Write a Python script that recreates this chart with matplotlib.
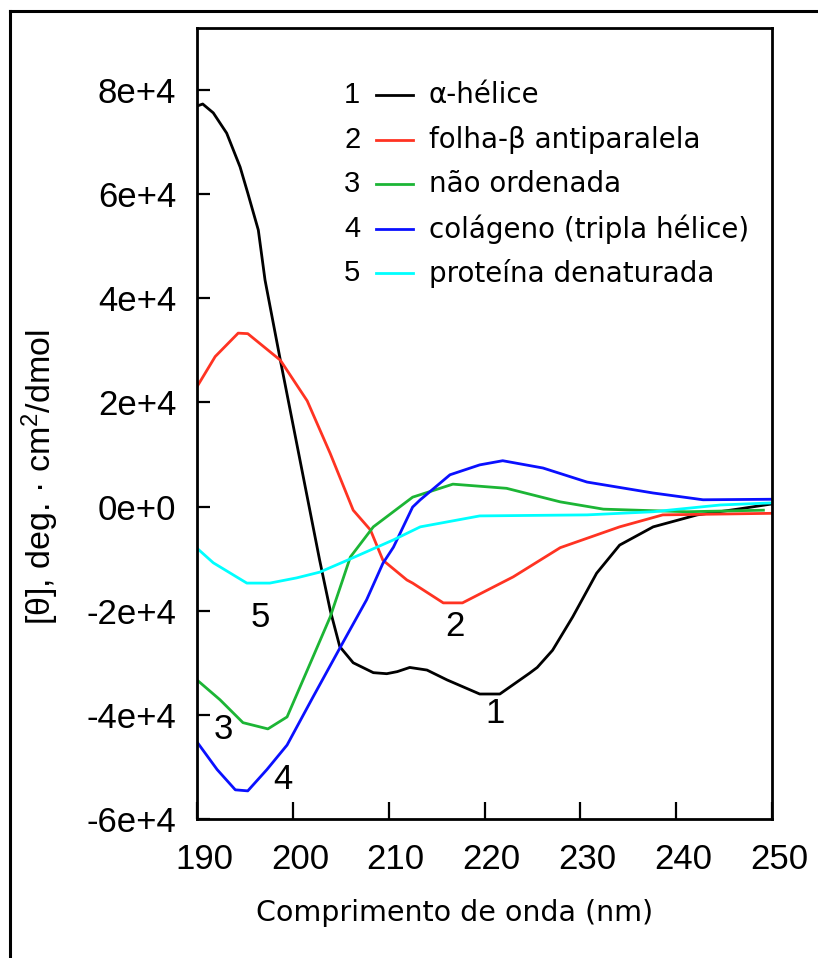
import numpy as np
import matplotlib.pyplot as plt
import matplotlib.transforms as mtransforms
from matplotlib.lines import Line2D

plt.rcParams['mathtext.fontset'] = 'custom'
plt.rcParams['mathtext.rm'] = 'Liberation Sans'
plt.rcParams['mathtext.default'] = 'regular'

# CD spectra, wavelength (nm) vs mean residue ellipticity
wl_helix = [190, 190.6, 191.7, 193.1, 194.5, 195.3, 196.4, 197.1, 198.7, 202.8, 203.9, 204.9,
            206.3, 208.4, 209.8, 210.9, 212.2, 214.0, 216.1, 219.5, 221.6, 224.7, 225.5,
            227.1, 229.2, 231.7, 234.1, 237.6, 242.2, 246.4, 250]
th_helix = [76900, 77300, 75600, 71700, 65200, 60200, 53100, 43500, 28100, -10300, -19900, -26900,
            -30000, -31900, -32100, -31700, -30900, -31400, -33300, -36000, -36000, -32000, -30900,
            -27600, -21200, -12800, -7400, -3900, -1600, -500, 500]

wl_sheet = [190, 191.9, 194.3, 195.3, 198.7, 201.5, 203.9, 206.3, 208.1, 209.4, 211.9,
            212.5, 215.7, 217.7, 223.0, 227.9, 234.1, 238.6, 250]
th_sheet = [23000, 28800, 33300, 33200, 28100, 20300, 10200, -700, -4500, -10300, -14100,
            -14700, -18500, -18500, -13500, -7900, -3900, -1600, -1300]

wl_coil = [190, 192.4, 194.8, 197.4, 199.4, 202.1, 203.9, 205.2, 206.0, 208.4, 212.5,
           216.7, 222.3, 227.9, 232.4, 241.1, 249.1]
th_coil = [-33300, -37100, -41500, -42700, -40400, -28900, -21200, -14100, -9700, -3900, 1800,
           4300, 3500, 900, -500, -1000, -700]

wl_coll = [190, 192.1, 194.0, 195.3, 197.3, 199.4, 202.1, 205.2, 207.7, 209.4, 210.5,
           212.5, 213.3, 216.4, 219.5, 221.9, 226.1, 230.7, 237.6, 242.8, 250]
th_coll = [-45200, -50500, -54400, -54600, -50500, -45800, -36600, -26200, -17900, -10900, -7800,
           -100, 1300, 6100, 8000, 8800, 7400, 4700, 2600, 1300, 1400]

wl_den = [190, 191.7, 194.3, 195.2, 197.6, 200.4, 202.8, 205.7, 210.5, 213.3, 219.5,
          230.7, 237.6, 244.6, 250]
th_den = [-8000, -10800, -13700, -14700, -14700, -13700, -12600, -10300, -6400, -3900, -1800,
          -1600, -1000, 300, 700]

labels = ['α-hélice', 'folha-β antiparalela', 'não ordenada',
          'colágeno (tripla hélice)', 'proteína denaturada']
colors = ['#000000', '#ff3322', '#1cb535', '#0a10ff', '#00ffff']
series = [(wl_helix, th_helix), (wl_sheet, th_sheet), (wl_coil, th_coil),
          (wl_coll, th_coll), (wl_den, th_den)]

# number tags placed next to each curve
tag_x = [221.1, 216.9, 192.8, 199.0, 196.6]
tag_y = [-39800, -23100, -42900, -52500, -21400]

yticks = [-60000, -40000, -20000, 0, 20000, 40000, 60000, 80000]
xticks = [190, 200, 210, 220, 230, 240, 250]

tick_font = 'Liberation Sans'


def sci_label(v):
    if v == 0:
        return '0e+0'
    return '%de+4' % (v / 1e4)


fig = plt.figure(figsize=(8.18, 9.58), dpi=100)
ax = fig.add_axes([0.2408, 0.1451, 0.7030, 0.8257])

for (wl, th), c in zip(series, colors):
    ax.plot(wl, th, color=c, lw=2.0, solid_joinstyle='round')

for i, (tx, ty) in enumerate(zip(tag_x, tag_y)):
    ax.text(tx, ty, str(i + 1), fontsize=25, family=tick_font,
            ha='center', va='center')

ax.set_xlim(190, 250)
ax.set_ylim(-60000, 91900)
ax.set_xticks(xticks)
ax.set_yticks(yticks)
ax.set_xticklabels([str(x) for x in xticks], family=tick_font, fontsize=25)
ax.set_yticklabels([sci_label(v) for v in yticks], family=tick_font, fontsize=25)
ax.tick_params(axis='y', direction='in', length=9.5, width=1.6, pad=15)
ax.tick_params(axis='x', direction='in', length=12, width=1.6, pad=17)
for s in ax.spines.values():
    s.set_linewidth(2.0)

# x tick labels sit slightly right of their ticks
shift = mtransforms.ScaledTranslation(7 / 100, 0, fig.dpi_scale_trans)
for lab in ax.get_xticklabels():
    lab.set_transform(lab.get_transform() + shift)

# legend: number, line sample, description
for i, (lab, c) in enumerate(zip(labels, colors)):
    yy = 0.915 - i * 0.0563
    ax.text(0.270, yy, str(i + 1), transform=ax.transAxes, fontsize=21,
            family='Liberation Sans', ha='center', va='center')
    ax.plot([0.311, 0.376], [yy, yy], transform=ax.transAxes, color=c, lw=2.0)
    ax.text(0.403, yy, lab, transform=ax.transAxes, fontsize=20,
            family='DejaVu Sans', ha='left', va='center')

fig.text(455 / 818, 1 - 913 / 958, 'Comprimento de onda (nm)', fontsize=20.5,
         family='DejaVu Sans', ha='center', va='center')
fig.text(40 / 818, 1 - 477 / 958, r'[θ], deg. · cm$^{2}$/dmol', fontsize=24.5,
         family='Liberation Sans', rotation=90, ha='center', va='center')

# outer frame (left and top edges)
fig.add_artist(Line2D([10 / 818, 10 / 818], [0, 1 - 11 / 958], color='black', lw=2.2))
fig.add_artist(Line2D([10 / 818, 1], [1 - 11 / 958, 1 - 11 / 958], color='black', lw=2.2))

fig.savefig('out.png', dpi=100)
